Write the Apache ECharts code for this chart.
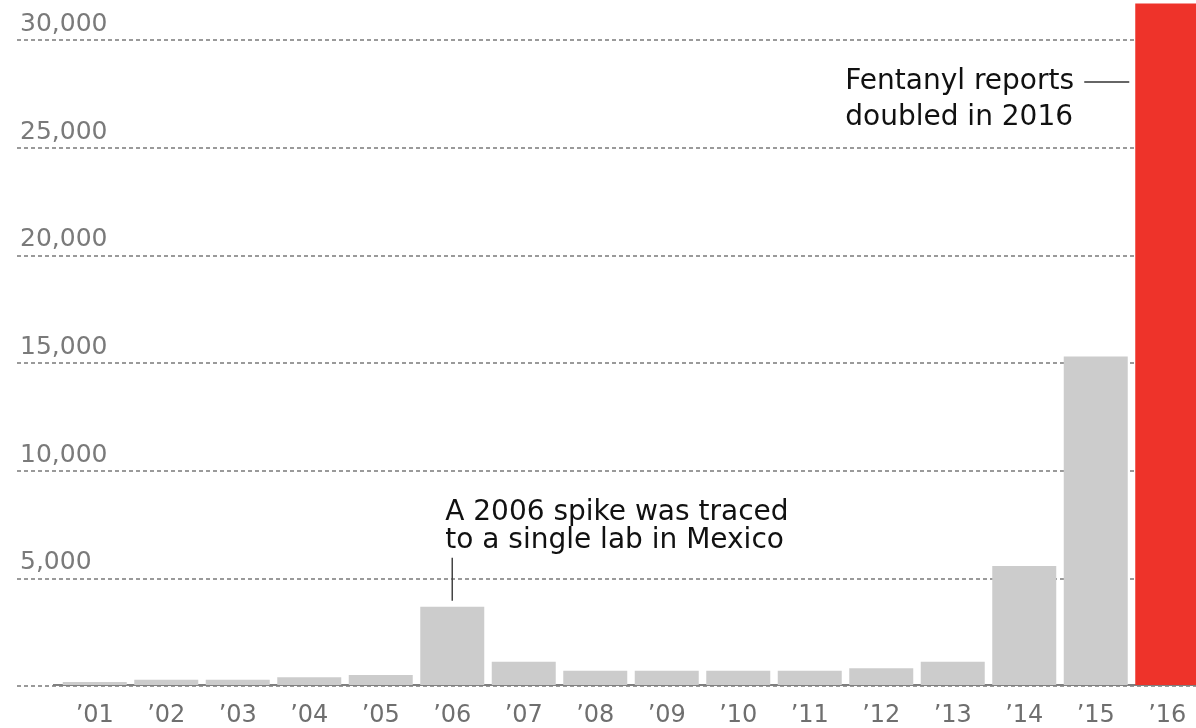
<!DOCTYPE html>
<html>
<head>
<meta charset="utf-8">
<title>Fentanyl reports</title>
<script src="https://cdn.jsdelivr.net/npm/echarts@6/dist/echarts.min.js"></script>
<style>
  html, body { margin: 0; padding: 0; background: #fff; overflow: hidden; }
  /* chart is a bit larger than the window: the top of the value axis and the
     right half of the last bar run off the edge, like in the original */
  #chart { width: 1220px; height: 748px; margin-top: -20px; }
</style>
</head>
<body>
<div id="chart"></div>
<script>
// data
var years = ['’01', '’02', '’03', '’04', '’05', '’06', '’07', '’08',
             '’09', '’10', '’11', '’12', '’13', '’14', '’15', '’16'];
var reports = [140, 250, 250, 360, 465, 3640, 1080, 665,
               665, 665, 665, 775, 1080, 5530, 15280, 31700];

var axisFont = 'DejaVu Sans';
var gray = '#cccccc';
var red = '#ee332a';

var chartDom = document.getElementById('chart');
var myChart = echarts.init(chartDom);

var barData = reports.map(function (v, i) {
  return i === years.length - 1 ? { value: v, itemStyle: { color: red } } : v;
});

var option = {
  animation: false,
  grid: [
    // grid 0 only carries the dashed grid lines and their labels
    { left: 17, right: 0, top: 17, bottom: 42 },
    // grid 1 holds the bars
    { left: 59, width: 1144, top: 17, bottom: 42 }
  ],
  xAxis: [
    { gridIndex: 0, type: 'value', show: false },
    {
      gridIndex: 1,
      type: 'category',
      data: years,
      axisLine: { lineStyle: { color: '#808080', width: 2 } },
      axisTick: { alignWithLabel: true, length: 11, lineStyle: { color: '#808080', width: 2 } },
      axisLabel: { color: '#6f6f6f', fontFamily: axisFont, fontSize: 24, margin: 19 }
    }
  ],
  yAxis: [
    {
      gridIndex: 0,
      type: 'value',
      min: 0,
      max: 32000,
      interval: 5000,
      axisLine: { show: false },
      axisTick: { show: false },
      axisLabel: {
        inside: true,
        margin: 3,
        showMaxLabel: false,
        verticalAlign: 'bottom',
        padding: [0, 0, 3, 0],
        color: '#7a7a7a',
        fontFamily: axisFont,
        fontSize: 25,
        formatter: function (v) {
          return v === 0 || v > 30000 ? '' : v.toLocaleString('en-US');
        }
      },
      splitLine: { lineStyle: { color: '#7a7a7a', width: 1.5, type: [4, 3] } }
    },
    { gridIndex: 1, type: 'value', min: 0, max: 32000, show: false, splitLine: { show: false } }
  ],
  series: [
    {
      type: 'bar',
      xAxisIndex: 1,
      yAxisIndex: 1,
      data: barData,
      barWidth: 64,
      itemStyle: { color: gray },
      z: 3
    }
  ]
};
myChart.setOption(option);

// annotations, anchored to their bars
var p06 = myChart.convertToPixel({ xAxisIndex: 1, yAxisIndex: 1 }, [years[5], reports[5]]);
var p16 = myChart.convertToPixel({ xAxisIndex: 1, yAxisIndex: 1 }, [years[15], reports[15]]);
var base = myChart.convertToPixel({ xAxisIndex: 1, yAxisIndex: 1 }, [years[0], 0]);
var noteStyle = { fill: '#111', font: '28px "DejaVu Sans"' };

myChart.setOption({
  graphic: [
    {
      type: 'text',
      left: p06[0] - 7,
      top: p06[1] - 108,
      style: Object.assign({ text: 'A 2006 spike was traced\nto a single lab in Mexico', lineHeight: 28 }, noteStyle)
    },
    {
      type: 'line',
      shape: { x1: p06[0], y1: p06[1] - 49, x2: p06[0], y2: p06[1] - 6 },
      style: { stroke: '#444', lineWidth: 1.5 }
    },
    {
      type: 'text',
      left: p16[0] - 322,
      top: 84,
      style: Object.assign({ text: 'Fentanyl reports\ndoubled in 2016', lineHeight: 36 }, noteStyle)
    },
    {
      type: 'line',
      shape: { x1: p16[0] - 83, y1: 102, x2: p16[0] - 38, y2: 102 },
      style: { stroke: '#333', lineWidth: 1.5 }
    },
    {
      // solid stretch of the base line left of the first bar
      type: 'line',
      shape: { x1: 53, y1: base[1], x2: 60, y2: base[1] },
      style: { stroke: '#808080', lineWidth: 2 }
    }
  ]
});
</script>
</body>
</html>
